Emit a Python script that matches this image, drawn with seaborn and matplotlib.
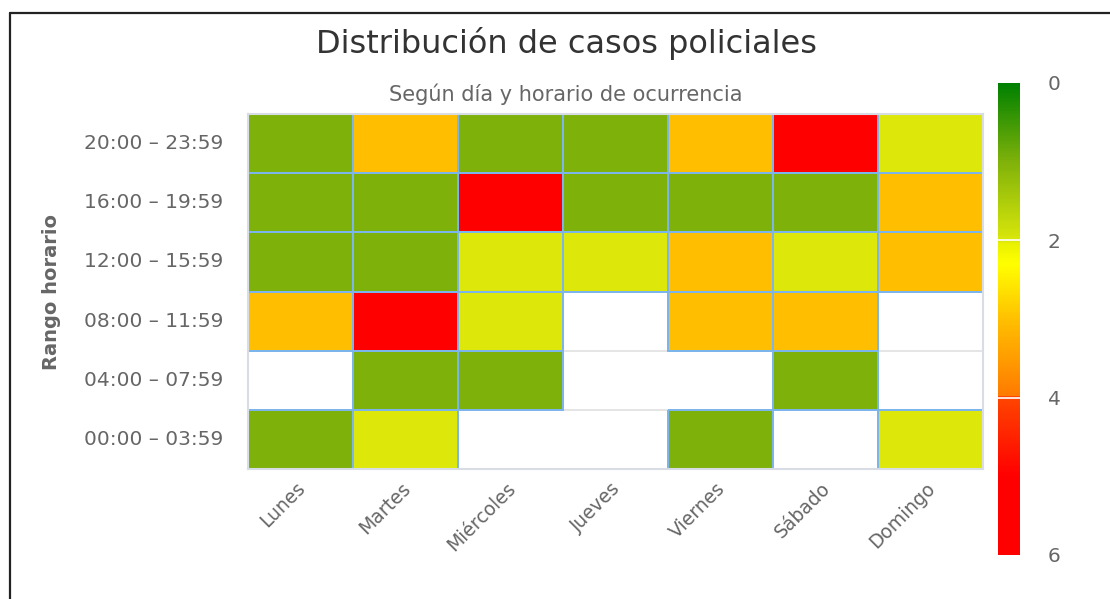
import numpy as np
import pandas as pd
import matplotlib.pyplot as plt
import seaborn as sns
from matplotlib.colors import LinearSegmentedColormap, to_rgba
from matplotlib.lines import Line2D
from matplotlib.transforms import ScaledTranslation

# -------------------------
# Data (NaN = no cases shown)
# -------------------------
dias = ["Lunes", "Martes", "Miércoles", "Jueves", "Viernes", "Sábado", "Domingo"]
horarios = ["20:00 – 23:59", "16:00 – 19:59", "12:00 – 15:59",
            "08:00 – 11:59", "04:00 – 07:59", "00:00 – 03:59"]

h_20_24 = [1, 3, 1, 1, 3, 5, 2]
h_16_20 = [1, 1, 5, 1, 1, 1, 3]
h_12_16 = [1, 1, 2, 2, 3, 2, 3]
h_08_12 = [3, 5, 2, np.nan, 3, 3, np.nan]
h_04_08 = [np.nan, 1, 1, np.nan, np.nan, 1, np.nan]
h_00_04 = [1, 2, np.nan, np.nan, 1, np.nan, 2]

df = pd.DataFrame([h_20_24, h_16_20, h_12_16, h_08_12, h_04_08, h_00_04],
                  index=horarios, columns=dias)

# colour scale as in the legend (0 green -> 6 red)
stops = [(0.0, "#008000"), (1 / 6, "#80B20A"), (1.98 / 6, "#D8E60A"),
         (2 / 6, "#DDE80A"), (2.05 / 6, "#EAF200"), (2.3 / 6, "#FFFF00"),
         (3 / 6, "#FFC000"), (3.98 / 6, "#FF7A00"), (4 / 6, "#FF4500"),
         (5 / 6, "#FF0000"), (1.0, "#FF0000")]
cmap = LinearSegmentedColormap.from_list("casos", stops)

grey = "#666666"
edge = "#7CB5EC"

# -------------------------
# Figure
# -------------------------
sns.set_style("white")
plt.rcParams["font.family"] = ["DejaVu Sans"]

fig = plt.figure(figsize=(11.1, 5.99), dpi=100)
ax = fig.add_axes([248 / 1110, 1 - 469 / 599, 735 / 1110, 355 / 599])
cax = fig.add_axes([998 / 1110, 1 - 555 / 599, 22 / 1110, 472 / 599])

# horizontal grid lines behind the cells
for y in range(1, len(horarios)):
    ax.axhline(y, color="#E3E3E3", lw=1.3, zorder=0)

sns.heatmap(df, ax=ax, cmap=cmap, vmin=0, vmax=6,
            linewidths=1.3, linecolor=edge,
            cbar_ax=cax, cbar_kws={"ticks": [0, 2, 4, 6]})

# blue borders only on the cells that have a value
mesh = ax.collections[0]
ec = [to_rgba(edge) if not np.isnan(v) else (0, 0, 0, 0)
      for v in df.to_numpy().ravel()]
mesh.set_edgecolors(ec)

ax.set_xlabel("")
ax.set_ylabel("Rango horario", fontsize=14, fontweight="bold",
              color=grey, labelpad=16)
ax.tick_params(axis="y", length=0, colors=grey, labelsize=14.5, pad=18)
ax.tick_params(axis="x", length=0, colors=grey, labelsize=13.5, pad=14)
plt.setp(ax.get_yticklabels(), rotation=0)
shift = ScaledTranslation(0.02, 0.03, fig.dpi_scale_trans)
for lab in ax.get_xticklabels():
    lab.set_rotation(45)
    lab.set_ha("right")
    lab.set_va("center")
    lab.set_rotation_mode("anchor")
    lab.set_transform(lab.get_transform() + shift)

for side in ["top", "bottom", "left", "right"]:
    ax.spines[side].set_visible(True)
    ax.spines[side].set_color("#D8DCE4")
    ax.spines[side].set_linewidth(1.5)

# colorbar
cbar = mesh.colorbar
cbar.outline.set_visible(False)
cax.invert_yaxis()
cax.tick_params(length=0, colors=grey, labelsize=14.5, pad=20)
for v in [2, 4]:
    cax.axhline(v, color="white", lw=1.2)

# titles
fig.text(566 / 1110, 1 - 43 / 599, "Distribución de casos policiales",
         ha="center", va="center", fontsize=23, color="#333333")
fig.text(566 / 1110, 1 - 94 / 599, "Según día y horario de ocurrencia",
         ha="center", va="center", fontsize=15, color=grey)

# page frame (top and left edge of the screenshot)
fig.add_artist(Line2D([9.5 / 1110, 1], [1 - 12.5 / 599, 1 - 12.5 / 599],
                      color="#222222", lw=1.6))
fig.add_artist(Line2D([9.5 / 1110, 9.5 / 1110], [0, 1 - 12.5 / 599],
                      color="#222222", lw=1.6))

fig.savefig("out.png", dpi=100, facecolor="white")
